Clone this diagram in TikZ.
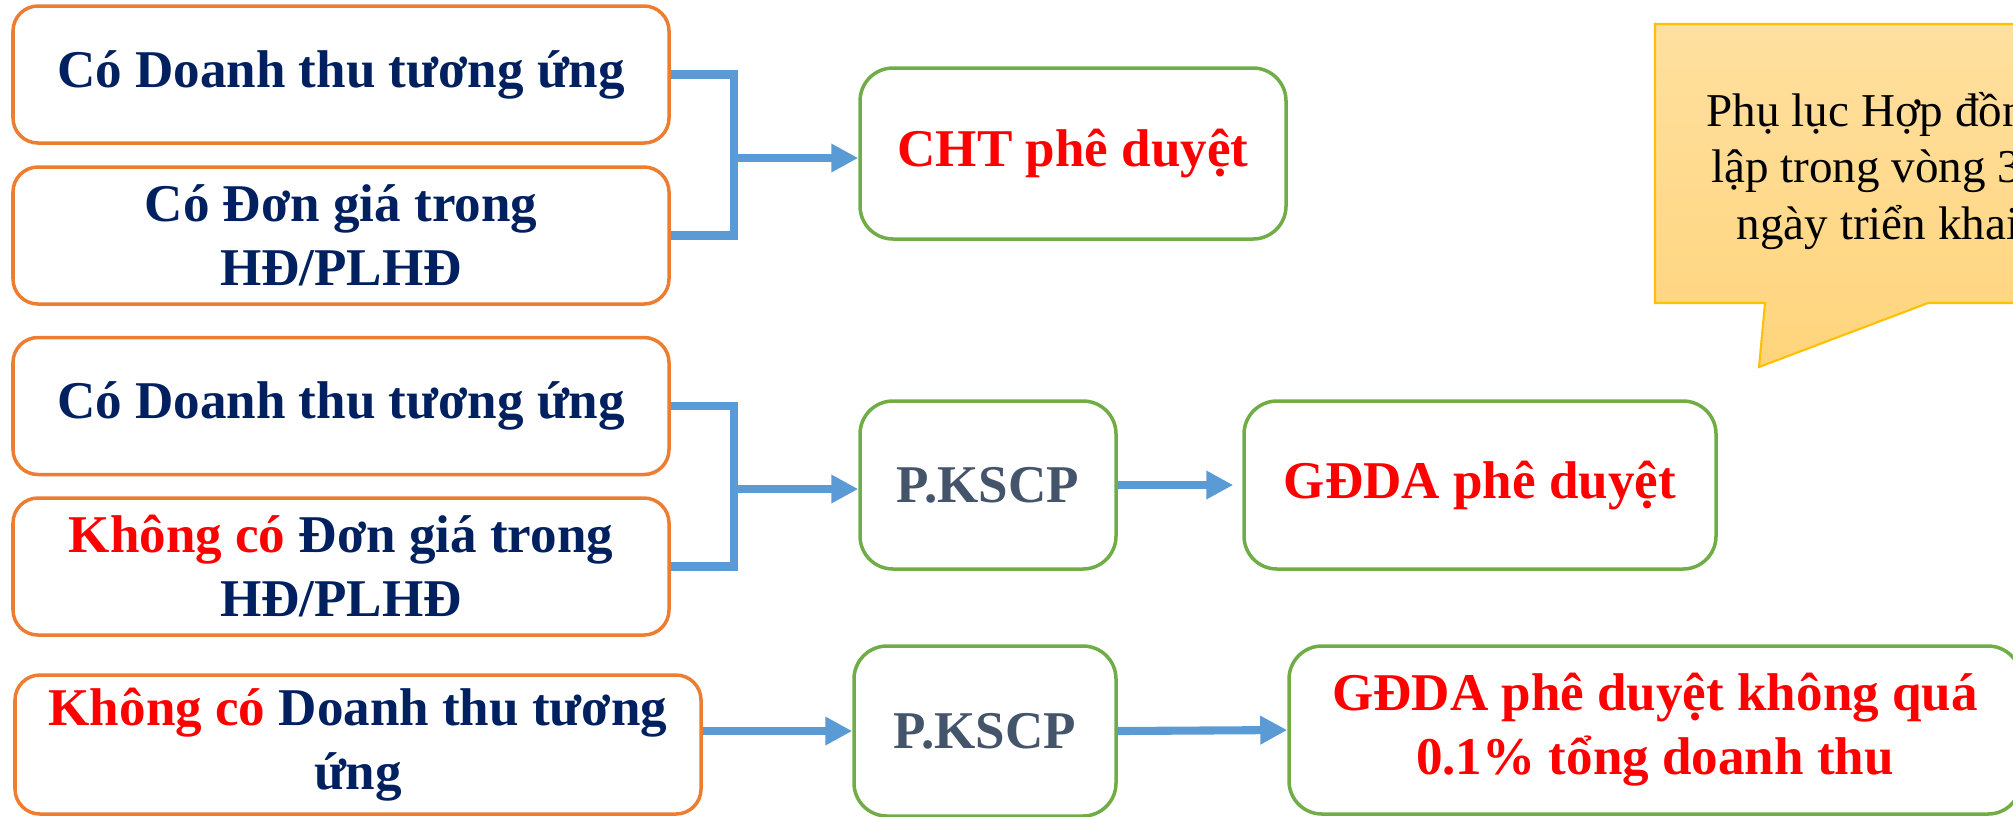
\documentclass[tikz,border=0pt]{standalone}
\usepackage{fontspec}
\setmainfont{Liberation Serif}
\usetikzlibrary{arrows.meta}

\definecolor{navy}{HTML}{002060}
\definecolor{slate}{HTML}{44546A}
\definecolor{boxorange}{HTML}{ED7D31}
\definecolor{boxgreen}{HTML}{70AD47}
\definecolor{arrowblue}{HTML}{5B9BD5}
\definecolor{calltop}{HTML}{FFE09F}
\definecolor{callbot}{HTML}{FFD47C}
\definecolor{callline}{HTML}{FFC000}

\newcommand{\boxfont}{\fontsize{15.1pt}{18.2pt}\selectfont}
\newcommand{\notefont}{\fontsize{13.4pt}{16.2pt}\selectfont}

\begin{document}
\begin{tikzpicture}[
    leftbox/.style={draw=boxorange, line width=1pt, rounded corners=0.25cm,
        minimum width=6.56cm, minimum height=1.37cm, inner sep=0pt,
        align=center, text=navy, font=\bfseries\boxfont},
    greenbox/.style={draw=boxgreen, line width=1pt, rounded corners=0.33cm,
        minimum height=1.68cm, inner sep=0pt, align=center, font=\bfseries\boxfont},
    bar/.style={draw=arrowblue, line width=2.3pt},
    arr/.style={bar, -{Triangle[length=0.27cm, width=0.27cm]}}
]
\useasboundingbox (0,0) rectangle (20.13,-8.16);
\clip (0,0) rectangle (20.13,-8.16);

% Note
\shadedraw[top color=calltop, bottom color=callbot, draw=callline, line width=0.6pt]
    (16.55,-0.24) -- (21.05,-0.24) -- (21.05,-3.03) -- (19.28,-3.03)
    -- (17.59,-3.67) -- (17.65,-3.03) -- (16.55,-3.03) -- cycle;
\node[align=center, font=\notefont] (note) at (18.78,-1.71)
    {Phụ lục Hợp đồng\\lập trong vòng 30\\ngày triển khai};

% Row 1
\node[leftbox] (dt1) at (3.41,-0.745) {Có Doanh thu tương ứng};
\node[leftbox] (dg1) at (3.41,-2.355) {Có Đơn giá trong\\HĐ/PLHĐ};
\node[greenbox, minimum width=4.26cm, minimum height=1.71cm, text=red] (cht) at (10.73,-1.535) {CHT phê duyệt};

\coordinate (j1) at (7.34,-1.58);
\draw[bar] (dt1.east) -| (j1) |- (dg1.east);
\draw[arr] (j1) -- (j1 -| cht.west);

% Row 2
\node[leftbox] (dt2) at (3.41,-4.06) {Có Doanh thu tương ứng};
\node[leftbox] (dg2) at (3.41,-5.665) {\textcolor{red}{Không có} Đơn giá trong\\HĐ/PLHĐ};
\node[greenbox, minimum width=2.56cm, text=slate] (kscp1) at (9.88,-4.85) {P.KSCP};
\node[greenbox, minimum width=4.72cm, text=red] (gd1) at (14.80,-4.85) {GĐDA phê duyệt};

\coordinate (j2) at (7.34,-4.89);
\draw[bar] (dt2.east) -| (j2) |- (dg2.east);
\draw[arr] (j2) -- (j2 -| kscp1.west);
\draw[arr, shorten >=0.09cm] (kscp1.east) -- (gd1.west);

% Row 3
\node[leftbox, minimum width=6.86cm, minimum height=1.39cm] (dt3) at (3.58,-7.445) {\textcolor{red}{Không có} Doanh thu tương\\ứng};
\node[greenbox, minimum width=2.62cm, minimum height=1.70cm, text=slate] (kscp2) at (9.85,-7.31) {P.KSCP};
\node[greenbox, minimum width=7.32cm, text=red] (gd2) at (16.55,-7.30) {GĐDA phê duyệt không quá\\0.1\% tổng doanh thu};

\draw[arr] (dt3.east |- kscp2.west) -- (kscp2.west);
\draw[arr] (kscp2.east) -- (gd2.west);

\end{tikzpicture}
\end{document}
